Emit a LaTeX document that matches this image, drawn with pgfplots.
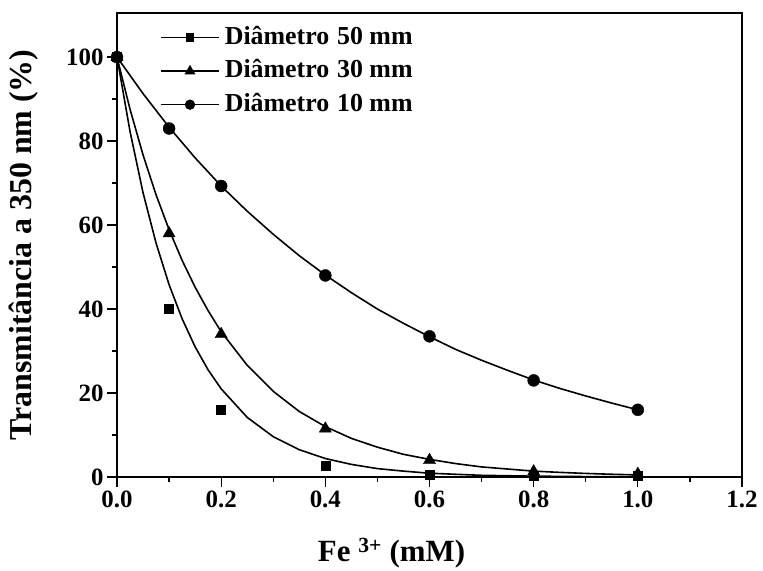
\documentclass[border=0pt]{standalone}
\usepackage{fontspec}
\setmainfont{Liberation Serif}
\usepackage{pgfplots}
\pgfplotsset{compat=1.18}
\begin{document}
\begin{tikzpicture}
\begin{axis}[
  scale only axis, width=625bp, height=464bp,
  xmin=0, xmax=1.2, ymin=0, ymax=110.5,
  xtick={0,0.2,0.4,0.6,0.8,1.0,1.2}, minor x tick num=1,
  ytick={0,20,40,60,80,100}, minor y tick num=1,
  xticklabel style={/pgf/number format/.cd, fixed, fixed zerofill, precision=1},
  /pgf/number format/assume math mode=true,
  ticklabel style={font=\fontsize{25}{25}\selectfont\bfseries},
  tick align=outside, xtick pos=bottom, ytick pos=left,
  major tick length=10bp, minor tick length=5bp,
  axis line style={line width=1.5bp},
  every tick/.style={line width=1.2bp, black},
  xlabel={Fe \textsuperscript{3+} (mM)},
  ylabel={Transmitância a 350 nm (\%)},
  xlabel style={font=\fontsize{31}{31}\selectfont\bfseries, at={(axis description cs:0.5,0)}, xshift=-38bp, yshift=-76bp, anchor=center},
  ylabel style={font=\fontsize{32}{32}\selectfont\bfseries, at={(axis description cs:-0.1488,0.5)}, anchor=center},
  legend style={at={(axis description cs:0.0688,0.972)}, anchor=north west, draw=none, fill=none,
    font=\fontsize{26}{26}\selectfont\bfseries, row sep=10.5bp, inner sep=0pt,
    nodes={inner ysep=0pt, inner xsep=5bp, text height=18bp, text depth=5bp}},
  legend cell align=left,
  legend image code/.code={\draw[mark repeat=2,mark phase=2,#1] plot coordinates {(0bp,0bp) (29bp,0bp) (58bp,0bp)};},
]
% fitted curves
\addplot[black, line width=1.6bp, forget plot] coordinates {
(0,100)(0.025,82.3)(0.05,67.7)(0.075,55.7)(0.1,45.8)(0.125,37.7)(0.15,31.0)(0.175,25.5)(0.2,21.0)
(0.25,14.2)(0.3,9.6)(0.35,6.5)(0.4,4.4)(0.45,3.0)(0.5,2.0)(0.55,1.4)(0.6,0.9)(0.7,0.4)(0.8,0.2)(0.9,0.1)(1.0,0.04)};
\addplot[black, line width=1.6bp, forget plot] coordinates {
(0,100)(0.025,87.6)(0.05,76.7)(0.075,67.2)(0.1,58.9)(0.125,51.6)(0.15,45.2)(0.175,39.6)(0.2,34.6)
(0.25,26.6)(0.3,20.4)(0.35,15.6)(0.4,12.0)(0.45,9.2)(0.5,7.1)(0.55,5.4)(0.6,4.2)(0.65,3.2)(0.7,2.4)
(0.75,1.9)(0.8,1.4)(0.85,1.1)(0.9,0.85)(0.95,0.65)(1.0,0.5)};
\addplot[black, line width=1.6bp, forget plot] coordinates {
(0,100)(0.05,91.3)(0.1,83.3)(0.15,76.0)(0.2,69.3)(0.25,63.3)(0.3,57.8)(0.35,52.7)(0.4,48.1)(0.45,43.9)
(0.5,40.0)(0.55,36.6)(0.6,33.4)(0.65,30.4)(0.7,27.8)(0.75,25.4)(0.8,23.1)(0.85,21.1)(0.9,19.3)(0.95,17.6)(1.0,16.0)};
% data points
\addplot[only marks, mark=square*, mark size=4.5bp, black, forget plot] coordinates {
(0,100)(0.1,40)(0.2,16)(0.4,2.7)(0.6,0.5)(0.8,0.3)(1.0,0.2)};
\addplot[only marks, mark=triangle*, mark size=7bp, black, forget plot] coordinates {
(0,100)(0.1,58)(0.2,34)(0.4,11.5)(0.6,4)(0.8,1.3)(1.0,0.7)};
\addplot[only marks, mark=*, mark size=6bp, black, forget plot] coordinates {
(0,100)(0.1,83)(0.2,69.3)(0.4,48)(0.6,33.5)(0.8,23)(1.0,16)};
\addlegendimage{black, line width=1.6bp, mark=square*, mark size=3.4bp}
\addlegendentry{Diâmetro\hspace{0.3em}50 mm}
\addlegendimage{black, line width=1.6bp, mark=triangle*, mark size=4.8bp}
\addlegendentry{Diâmetro\hspace{0.3em}30 mm}
\addlegendimage{black, line width=1.6bp, mark=*, mark size=4.3bp}
\addlegendentry{Diâmetro\hspace{0.3em}10 mm}
\end{axis}
\pgfresetboundingbox
\path ([xshift=-117bp,yshift=-94bp]current axis.south west) rectangle ([xshift=21bp,yshift=13bp]current axis.north east);
\end{tikzpicture}
\end{document}
